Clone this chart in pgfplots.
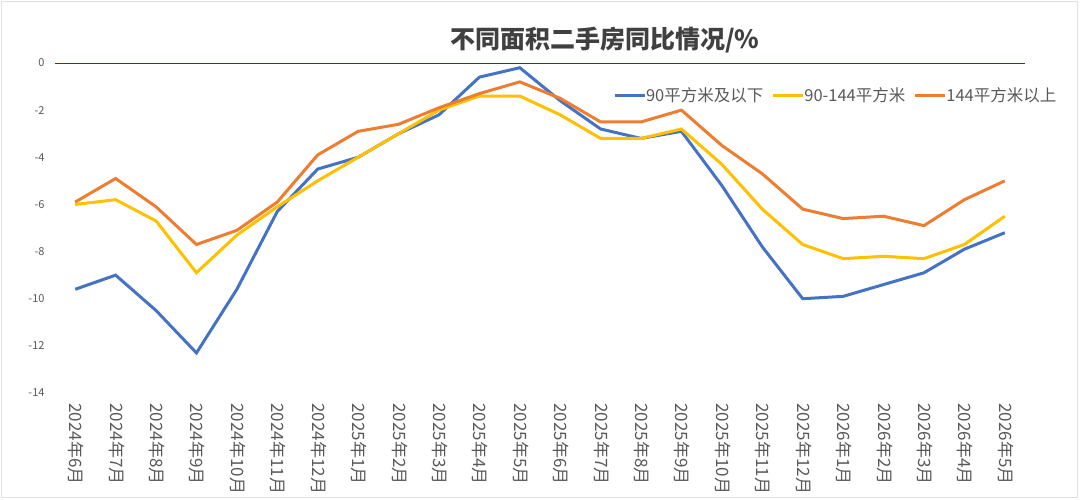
\documentclass[border=0pt]{standalone}
\usepackage{pgfplots}
\pgfplotsset{compat=1.18}
\usepackage{pgfplotstable}
\usepackage{fontspec}
\setmainfont{Noto Sans CJK SC}
\definecolor{cblue}{HTML}{4472C4}
\definecolor{cyellow}{HTML}{FFC000}
\definecolor{corange}{HTML}{ED7D31}
\definecolor{ctext}{HTML}{595959}
\definecolor{ctitle}{HTML}{404040}
\definecolor{cred}{HTML}{C00000}
\pgfplotstableread{
x a b c
0 -9.6 -6.0 -5.9
1 -9.0 -5.8 -4.9
2 -10.5 -6.7 -6.1
3 -12.3 -8.9 -7.7
4 -9.6 -7.3 -7.1
5 -6.3 -6.1 -5.9
6 -4.5 -5.0 -3.9
7 -4.0 -4.0 -2.9
8 -3.0 -3.0 -2.6
9 -2.2 -2.0 -1.9
10 -0.6 -1.4 -1.3
11 -0.2 -1.4 -0.8
12 -1.6 -2.2 -1.5
13 -2.8 -3.2 -2.5
14 -3.2 -3.2 -2.5
15 -2.9 -2.8 -2.0
16 -5.2 -4.3 -3.5
17 -7.8 -6.2 -4.7
18 -10.0 -7.7 -6.2
19 -9.9 -8.3 -6.6
20 -9.4 -8.2 -6.5
21 -8.9 -8.3 -6.9
22 -7.9 -7.7 -5.8
23 -7.2 -6.5 -5.0
}\datatable
\begin{document}
\begin{tikzpicture}[x=1pt,y=1pt]
\path (0,0) rectangle (1080,499);
\draw[black!12, line width=1pt] (1.5,1.5) rectangle (1077.5,497.5);
\node[text=ctitle, font=\fontsize{25}{29}\selectfont\bfseries] at (605,459) {不同面积二手房同比情况/\%};
\begin{axis}[
  at={(55pt,106pt)}, anchor=south west,
  scale only axis, width=970pt, height=330pt,
  xmin=-0.5, xmax=23.5, ymin=-14, ymax=0,
  ytick={-14,-12,-10,-8,-6,-4,-2,0},
  xtick={0,...,23},
  xticklabels={2024年6月,2024年7月,2024年8月,2024年9月,2024年10月,2024年11月,2024年12月,2025年1月,2025年2月,2025年3月,2025年4月,2025年5月,2025年6月,2025年7月,2025年8月,2025年9月,2025年10月,2025年11月,2025年12月,2026年1月,2026年2月,2026年3月,2026年4月,2026年5月},
  axis line style={draw=none},
  tick style={draw=none},
  /pgf/number format/assume math mode=true,
  yticklabel style={font=\fontsize{11}{13}\selectfont, text=ctext, xshift=-7pt},
  xticklabel style={font=\fontsize{17}{19}\selectfont, text=ctext, rotate=-90, anchor=west, xshift=7pt, yshift=1pt},
  clip=false,
  legend columns=3,
  legend style={at={(0.572,0.903)}, anchor=west, draw=none, fill=none,
    font=\fontsize{16.5}{19}\selectfont, text=ctext,
    /tikz/every even column/.append style={column sep=6pt},
    /tikz/every odd column/.append style={column sep=-2pt}},
  legend image code/.code={\draw[#1] (0pt,0pt) -- (30pt,0pt);},
]
\draw[cred, line width=1pt] (rel axis cs:0,1) -- (rel axis cs:1,1);
\addplot[cblue, line width=3pt] table[x=x, y=a] {\datatable};
\addlegendentry{90平方米及以下}
\addplot[cyellow, line width=3pt] table[x=x, y=b] {\datatable};
\addlegendentry{90-144平方米}
\addplot[corange, line width=3pt] table[x=x, y=c] {\datatable};
\addlegendentry{144平方米以上}
\end{axis}
\end{tikzpicture}
\end{document}
